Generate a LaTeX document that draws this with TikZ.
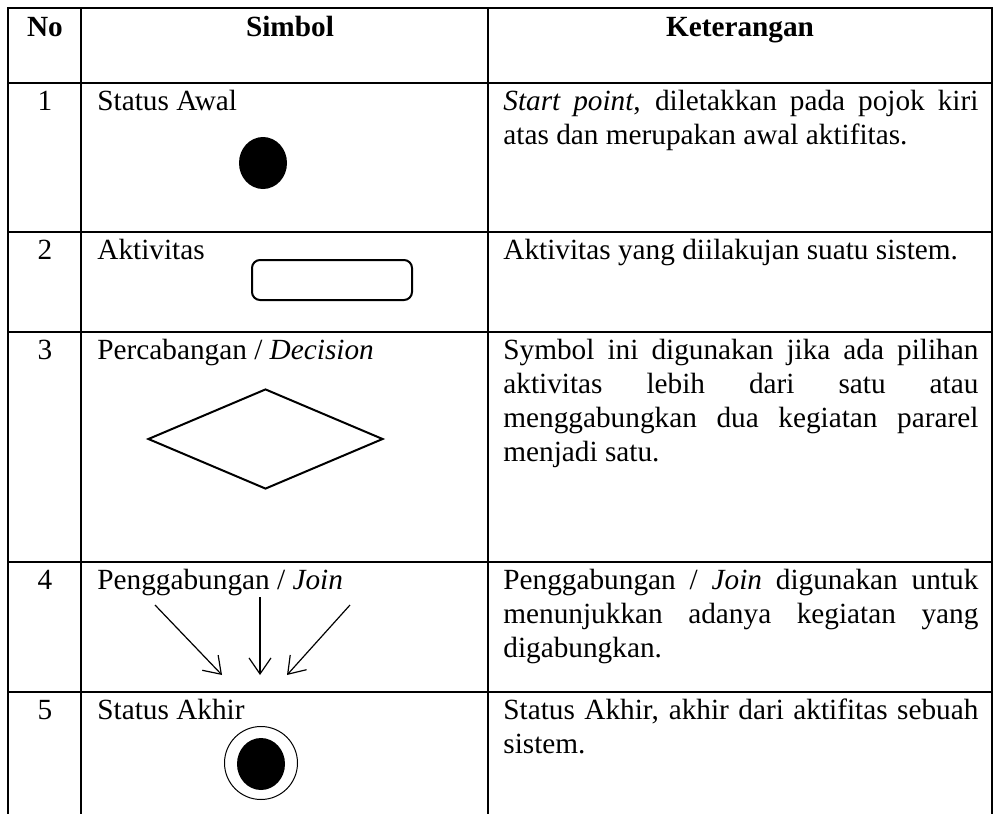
\documentclass[tikz,border=0pt]{standalone}
\usepackage{fontspec}
\setmainfont{Liberation Serif}
\usetikzlibrary{arrows.meta, positioning, shapes.geometric}

\begin{document}
\begin{tikzpicture}[
    x=0.5pt, y=-0.5pt,
    font=\fontsize{14.64}{17}\selectfont,
    tableline/.style={line width=1pt, draw=black},
    head/.style={anchor=base, inner sep=0, font=\fontsize{14.64}{17}\selectfont\bfseries},
    num/.style={anchor=base, inner sep=0},
    symname/.style={anchor=base west, inner sep=0},
    desc/.style={anchor=base west, inner sep=0, text width=237.5pt, align=justify},
    startdot/.style={ellipse, fill=black, minimum width=24pt, minimum height=26pt, inner sep=0},
    activity/.style={rectangle, rounded corners=4pt, draw, line width=1pt, minimum width=80pt, minimum height=20pt},
    decision/.style={diamond, draw, line width=1pt, minimum width=117.5pt, minimum height=50pt, inner sep=0},
    endring/.style={circle, draw, line width=0.5pt, minimum size=36.5pt, inner sep=0},
    flow/.style={line width=0.6pt, -{Straight Barb[length=8pt, width=11pt]}}
]
    \useasboundingbox (0,0) rectangle (997,814);

    % =========================================================
    % TABLE GRID
    % =========================================================
    \draw[tableline] (8,814) -- (8,8) -- (992,8) -- (992,814);
    \draw[tableline] (81,8) -- (81,814);
    \draw[tableline] (488,8) -- (488,814);
    \foreach \y in {83, 232, 332, 562, 692} {
        \draw[tableline] (8,\y) -- (992,\y);
    }

    % Header
    \node[head] (hNo) at (45,36) {No};
    \node[head] (hSym) at (290,36) {Simbol};
    \node[head] (hKet) at (740,36) {Keterangan};

    % Row numbers
    \foreach \n/\y in {1/110, 2/259, 3/359, 4/589, 5/719} {
        \node[num] (no\n) at (45,\y) {\n};
    }

    % =========================================================
    % SIMBOL COLUMN
    % =========================================================
    \node[symname] (sym1) at (97,110) {Status Awal};
    \node[startdot] (awal) at (263,163) {};

    \node[symname] (sym2) at (97,259) {Aktivitas};
    \node[activity] (aktivitas) at (332,280) {};

    \node[symname] (sym3) at (97,359) {Percabangan / \textit{Decision}};
    \node[decision] (decision) at (265.5,439) {};

    \node[symname] (sym4) at (97,589) {Penggabungan / \textit{Join}};
    \coordinate (jL) at (155,605);
    \coordinate (jM) at (260,597);
    \coordinate (jR) at (350,605);
    \coordinate (eL) at (222,675);
    \coordinate (eM) at (260,675);
    \coordinate (eR) at (287,675);
    \draw[flow] (jL) -- (eL);
    \draw[flow] (jM) -- (eM);
    \draw[flow] (jR) -- (eR);

    \node[symname] (sym5) at (97,719) {Status Akhir};
    \node[endring] (akhirRing) at (261,763) {};
    \node[startdot] (akhir) at (261,764) {};

    % =========================================================
    % KETERANGAN COLUMN
    % =========================================================
    \node[desc] (ket1) at (503,110) {\textit{Start point}, diletakkan pada pojok kiri\linebreak atas dan merupakan awal aktifitas.};
    \node[desc] (ket2) at (503,259) {Aktivitas yang diilakujan suatu sistem.};
    \node[desc] (ket3) at (503,359) {Symbol ini digunakan jika ada pilihan\linebreak aktivitas lebih dari satu atau\linebreak menggabungkan dua kegiatan pararel\linebreak menjadi satu.};
    \node[desc] (ket4) at (503,589) {Penggabungan / \textit{Join} digunakan untuk\linebreak menunjukkan adanya kegiatan yang\linebreak digabungkan.};
    \node[desc] (ket5) at (503,719) {Status Akhir, akhir dari aktifitas sebuah\linebreak sistem.};

\end{tikzpicture}
\end{document}
